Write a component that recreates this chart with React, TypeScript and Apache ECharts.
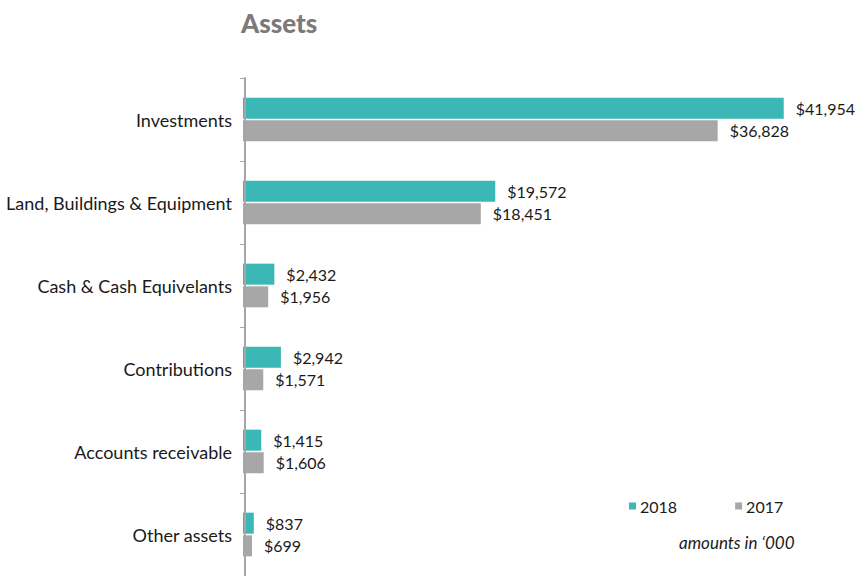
import React, { useEffect, useRef } from "react";
import * as echarts from "echarts";

const categories = [
  "Investments",
  "Land, Buildings & Equipment",
  "Cash & Cash Equivelants",
  "Contributions",
  "Accounts receivable",
  "Other assets",
];
const values2018 = [41954, 19572, 2432, 2942, 1415, 837];
const values2017 = [36828, 18451, 1956, 1571, 1606, 699];
const seriesNames = ["2018", "2017"];
const colors = ["#3bb8b5", "#a7a7a7"];

const FONT = "Lato";

export default function App() {
  const ref = useRef<HTMLDivElement>(null);
  useEffect(() => {
    if (!ref.current) return;
    const chart = echarts.init(ref.current, null, { renderer: "svg" });
    const fmt = (p: any) => "$" + Number(p.value).toLocaleString("en-US");
    chart.setOption({
      animation: false,
      textStyle: { fontFamily: FONT },
      title: {
        text: "Assets",
        left: 236,
        top: 5,
        textStyle: { fontFamily: FONT, fontSize: 26, fontWeight: 900, color: "#7a7a7a" },
      },
      legend: {
        left: 624,
        top: 493,
        icon: "rect",
        itemWidth: 7,
        itemHeight: 7,
        itemGap: 58,
        textStyle: { fontFamily: FONT, fontSize: 16, color: "#1a1a1a", padding: [0, 0, 0, -1] },
        data: seriesNames,
      },
      graphic: [
        {
          type: "text",
          left: 679,
          top: 534,
          style: {
            text: "amounts in \u2018000",
            font: `italic 17px ${FONT}`,
            fill: "#1a1a1a",
          },
        },
      ],
      grid: { left: 243, top: 78, height: 502, right: 33, containLabel: false },
      xAxis: {
        type: "value",
        min: 0,
        max: 45000,
        show: false,
      },
      yAxis: {
        type: "category",
        data: categories,
        inverse: true,
        offset: -2,
        z: 5,
        axisLine: { show: true, lineStyle: { color: "#a6a6a6", width: 2 } },
        axisTick: { show: true, length: 5, lineStyle: { color: "#a6a6a6", width: 1 } },
        axisLabel: { margin: 13, fontFamily: FONT, fontSize: 18, color: "#1a1a1a" },
        splitLine: { show: false },
      },
      series: [
        {
          name: seriesNames[0],
          type: "bar",
          data: values2018,
          barWidth: 21,
          barGap: "8%",
          itemStyle: { color: colors[0] },
          label: { show: true, position: "right", distance: 12, formatter: fmt, fontFamily: FONT, fontSize: 16, color: "#1a1a1a" },
        },
        {
          name: seriesNames[1],
          type: "bar",
          data: values2017,
          barWidth: 21,
          barGap: "8%",
          itemStyle: { color: colors[1] },
          label: { show: true, position: "right", distance: 12, formatter: fmt, fontFamily: FONT, fontSize: 16, color: "#1a1a1a" },
        },
      ],
    });
    return () => chart.dispose();
  }, []);
  return <div ref={ref} style={{ width: 856, height: 576, position: "absolute", left: 0, top: 0 }} />;
}
